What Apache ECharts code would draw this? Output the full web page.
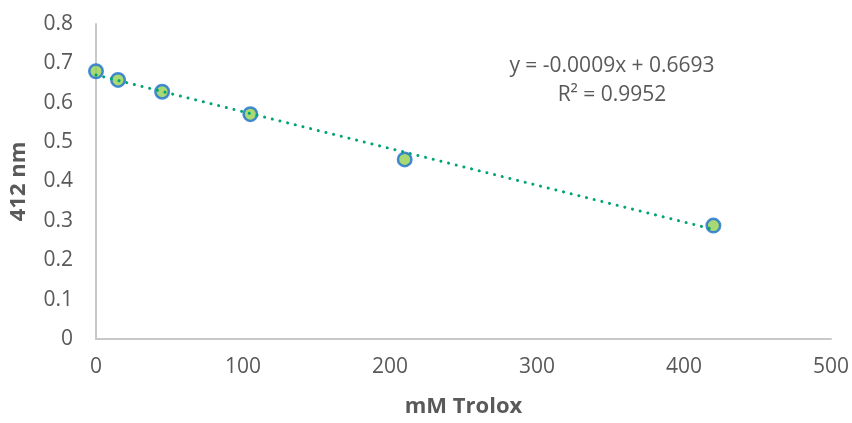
<!DOCTYPE html>
<html><head><meta charset="utf-8">
<script src="https://cdn.jsdelivr.net/npm/echarts@6/dist/echarts.min.js"></script>
<style>html,body{margin:0;padding:0;background:#fff}#c{width:852px;height:423px}</style>
</head><body><div id="c"></div>
<script>
const xValues = [0, 15, 45, 105, 210, 420];
const yValues = [0.680, 0.658, 0.628, 0.571, 0.456, 0.288];
const xTitle = 'mM Trolox';
const yTitle = '412 nm';
const eqText = 'y = -0.0009x + 0.6693';
const r2Text = 'R² = 0.9952';

// least squares trendline from the data
const n = xValues.length;
const mx = xValues.reduce((a,b)=>a+b,0)/n;
const my = yValues.reduce((a,b)=>a+b,0)/n;
let sxx=0, sxy=0;
for(let i=0;i<n;i++){sxx+=(xValues[i]-mx)**2; sxy+=(xValues[i]-mx)*(yValues[i]-my);}
const slope = sxy/sxx, icpt = my - slope*mx;
const xmin = Math.min(...xValues), xmax = Math.max(...xValues);
const trend = [[xmin, icpt+slope*xmin],[xmax, icpt+slope*xmax]];

const font = '"Open Sans", "Liberation Sans", sans-serif';
const chart = echarts.init(document.getElementById('c'), null, {renderer:'canvas'});
chart.setOption({
  animation:false,
  backgroundColor:'#fff',
  textStyle:{fontFamily:font},
  grid:{left:96, right:20, top:24, bottom:79, containLabel:false},
  xAxis:{type:'value', min:0, max:500, interval:100,
    name:xTitle, nameLocation:'middle', nameGap:57,
    nameTextStyle:{fontSize:22, fontWeight:'bold', color:'#595959', fontFamily:font},
    axisLine:{show:true, lineStyle:{color:'#c8c8c8', width:2}},
    axisTick:{show:false}, splitLine:{show:false},
    axisLabel:{fontSize:21, color:'#595959', margin:18, fontFamily:font}},
  yAxis:{type:'value', min:0, max:0.8, interval:0.1,
    name:yTitle, nameLocation:'middle', nameGap:66, nameRotate:90,
    nameTextStyle:{fontSize:22, fontWeight:'bold', color:'#595959', fontFamily:font},
    axisLine:{show:true, lineStyle:{color:'#c8c8c8', width:2}},
    axisTick:{show:false}, splitLine:{show:false},
    axisLabel:{fontSize:21, color:'#595959', margin:23, fontFamily:font,
      formatter:v=>String(Math.round(v*10)/10)}},
  series:[
    {type:'scatter', data:xValues.map((x,i)=>[x,yValues[i]]), symbol:'circle', symbolSize:13.5,
     itemStyle:{color:'#92d050', borderColor:'#1c6fd2', borderWidth:2.5}, z:2},
    {type:'line', data:trend, showSymbol:false, symbol:'none', z:3,
     lineStyle:{color:'#00a374', width:3, type:[0.1,7.8], cap:'round'}}
  ],
  graphic:[
    {type:'text', x:612, y:66, style:{text:eqText, fontSize:21, fill:'#595959', fontFamily:font, align:'center', verticalAlign:'middle'}},
    {type:'text', x:612, y:95, style:{text:r2Text, fontSize:21, fill:'#595959', fontFamily:font, align:'center', verticalAlign:'middle'}}
  ]
});
</script></body></html>
